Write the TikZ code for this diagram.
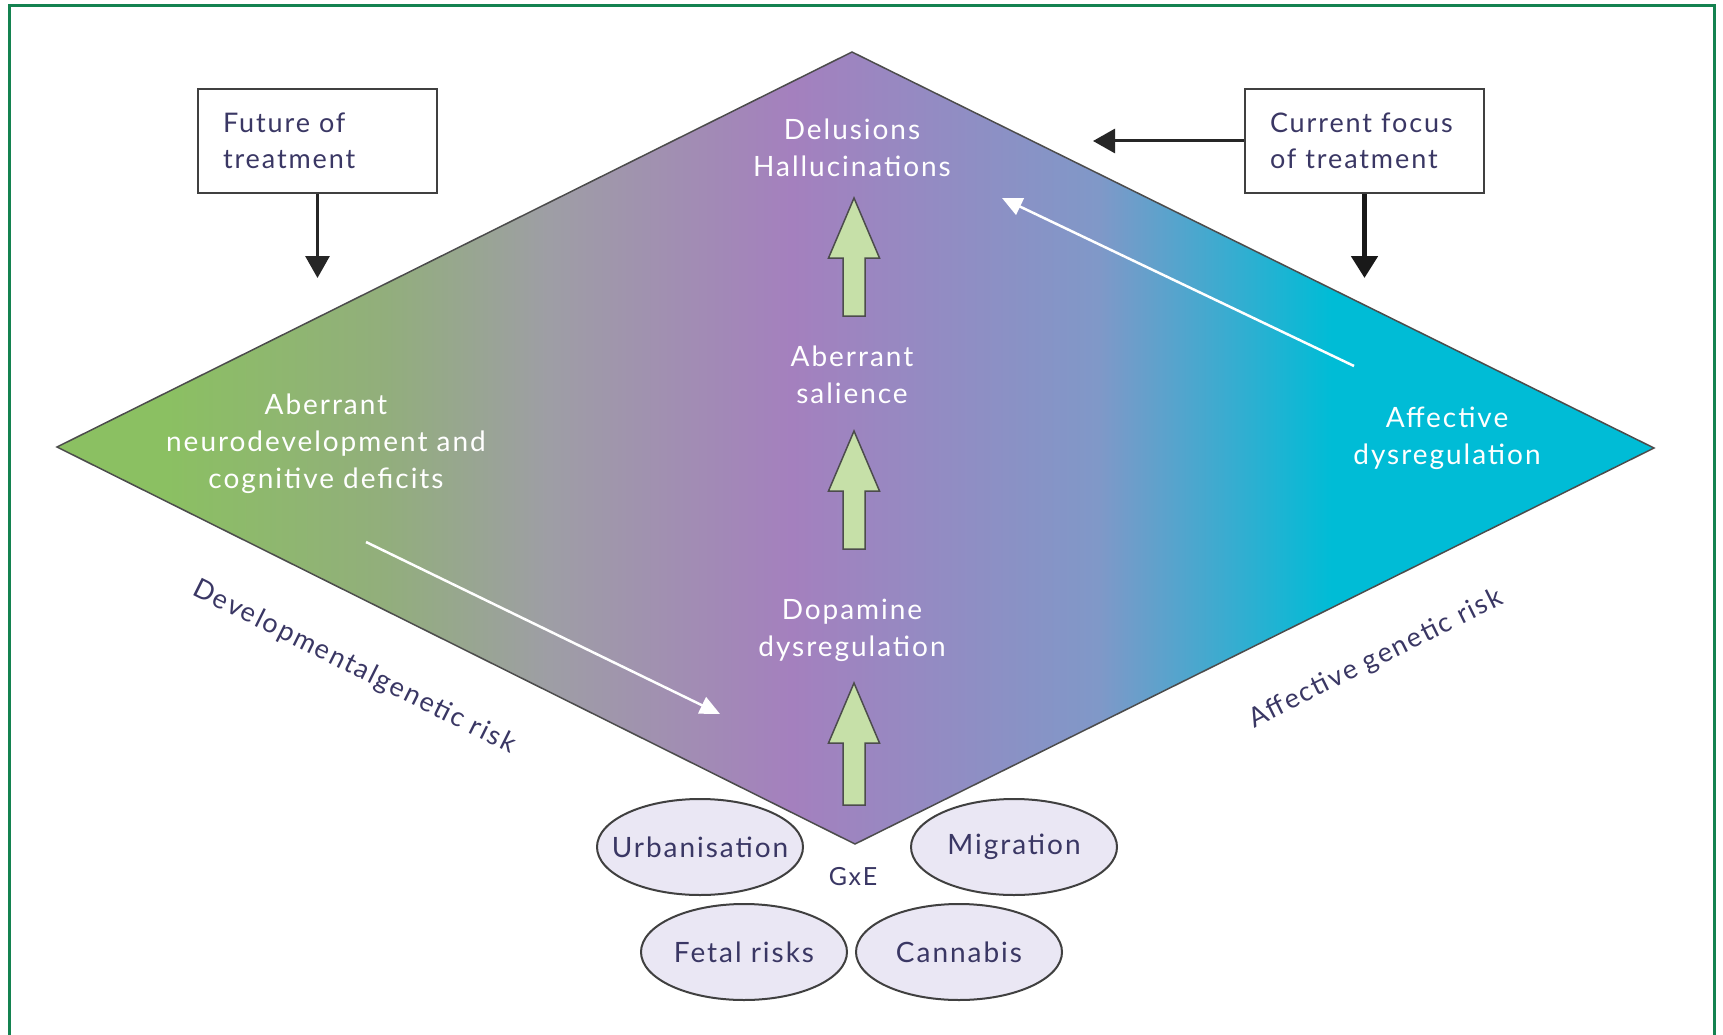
\documentclass[tikz,border=0pt]{standalone}
\usepackage{fontspec}
\setmainfont{Lato}[LetterSpace=7]
\usetikzlibrary{arrows.meta,shapes.geometric}
\definecolor{dgreen}{RGB}{139,192,98}
\definecolor{dgreengray}{RGB}{146,174,124}
\definecolor{dgray}{RGB}{158,158,165}
\definecolor{dpurple}{RGB}{164,128,190}
\definecolor{dblue}{RGB}{128,152,200}
\definecolor{dcyan}{RGB}{0,188,214}
\definecolor{framegreen}{RGB}{20,130,80}
\definecolor{navytext}{RGB}{58,55,100}
\definecolor{ellfill}{RGB}{234,231,244}
\definecolor{arrowgreen}{RGB}{198,224,168}
\pgfdeclarehorizontalshading{diamondshade}{100bp}{%
 color(0bp)=(dgreen); color(28.4bp)=(dgreen); color(35.3bp)=(dgreengray);
 color(40.4bp)=(dgray); color(48bp)=(dpurple); color(57.6bp)=(dblue);
 color(64.9bp)=(dcyan); color(100bp)=(dcyan)}
\newcommand{\blockarrowup}[3]{%
 \filldraw[garrow] (#1-11,#3) -- (#1-11,#2+60) -- (#1-25.5,#2+60) -- (#1,#2)
  -- (#1+25.5,#2+60) -- (#1+11,#2+60) -- (#1+11,#3) -- cycle;}
\tikzset{
 frame/.style={draw=framegreen,line width=3},
 boxstyle/.style={draw=black!75,line width=2.5,fill=white,text=navytext,
   font=\fontsize{27}{36}\selectfont,align=left,text width=189,inner xsep=25,
   minimum width=239,minimum height=104},
 wtext/.style={text=white,font=\fontsize{28}{37}\selectfont,align=center,inner sep=0},
 blackarrow/.style={draw=black!85,line width=3,-{Triangle[width=24,length=22]}},
 thickblackarrow/.style={draw=black!90,line width=5,-{Triangle[width=26,length=22]}},
 whitearrow/.style={draw=white,line width=2.5,-{Triangle[width=18,length=20]}},
 garrow/.style={fill=arrowgreen,draw=black!70,line width=1.5,line join=miter},
 ell/.style={ellipse,draw=black!75,line width=2,fill=ellfill,text=navytext,
   minimum width=206,minimum height=96,inner xsep=-30,inner ysep=0,
   font=\fontsize{28}{30}\selectfont},
 rot/.style={text=navytext,font=\fontsize{27}{30}\selectfont,inner sep=0},
}
\begin{document}
\begin{tikzpicture}[x=1pt,y=-1pt]
\useasboundingbox (0,0) rectangle (1723,1035);
\fill[white] (0,0) rectangle (1723,1035);
\draw[frame] (9,1040) -- (9,6) -- (1714,6) -- (1714,1040);
% diamond
\coordinate (dT) at (852,52);
\coordinate (dL) at (57,447);
\coordinate (dR) at (1654,448);
\coordinate (dB) at (855,844);
\shade[shading=diamondshade] (dT) -- (dR) -- (dB) -- (dL) -- cycle;
\draw[black!70,line width=1.5] (dT) -- (dR) -- (dB) -- (dL) -- cycle;
% boxes
\node[boxstyle] (future) at (317.5,141) {Future of\\treatment};
\node[boxstyle] (current) at (1364.5,141) {Current focus\\of treatment};
\coordinate (futtip) at (317.5,278);
\coordinate (curleft) at (1093,141);
\coordinate (curtip) at (1364.5,278);
\draw[blackarrow] (future.south) -- (futtip);
\draw[blackarrow] (current.west) -- (curleft);
\draw[thickblackarrow] (current.south) -- (curtip);
% texts inside diamond
\node[wtext] (delu) at (852,148) {Delusions\\Hallucinations};
\node[wtext] (sal) at (852,375) {Aberrant\\salience};
\node[wtext] (dopa) at (852,630) {Dopamine\\dysregulation};
\node[wtext] (neuro) at (326,444) {Aberrant\\neurodevelopment and\\cognitive deficits};
\node[wtext] (affect) at (1447,438) {Affective\\dysregulation};
% green block arrows
\blockarrowup{854}{198}{316}
\blockarrowup{854}{431}{549}
\blockarrowup{854}{683}{805}
% white arrows
\coordinate (w1s) at (366,542);
\coordinate (w1e) at (720,714);
\coordinate (w2s) at (1354,366);
\coordinate (w2e) at (1002,198);
\draw[whitearrow] (w1s) -- (w1e);
\draw[whitearrow] (w2s) -- (w2e);
% side labels
\node[rot,rotate=-26.5] (devrisk) at (354,667) {Developmentalgenetic risk};
\node[rot,rotate=26.5] (affrisk) at (1376,659) {Affective genetic risk};
% environment ellipses
\node[ell] (urb) at (700,847) {Urbanisation};
\node[ell] (mig) at (1014,847) {Migration};
\node[ell] (fetal) at (744,952) {Fetal risks};
\node[ell] (cann) at (959,952) {Cannabis};
\node[text=navytext,font=\fontsize{25}{28}\selectfont,inner sep=0] (gxe) at (853,877) {GxE};
\end{tikzpicture}
\end{document}
